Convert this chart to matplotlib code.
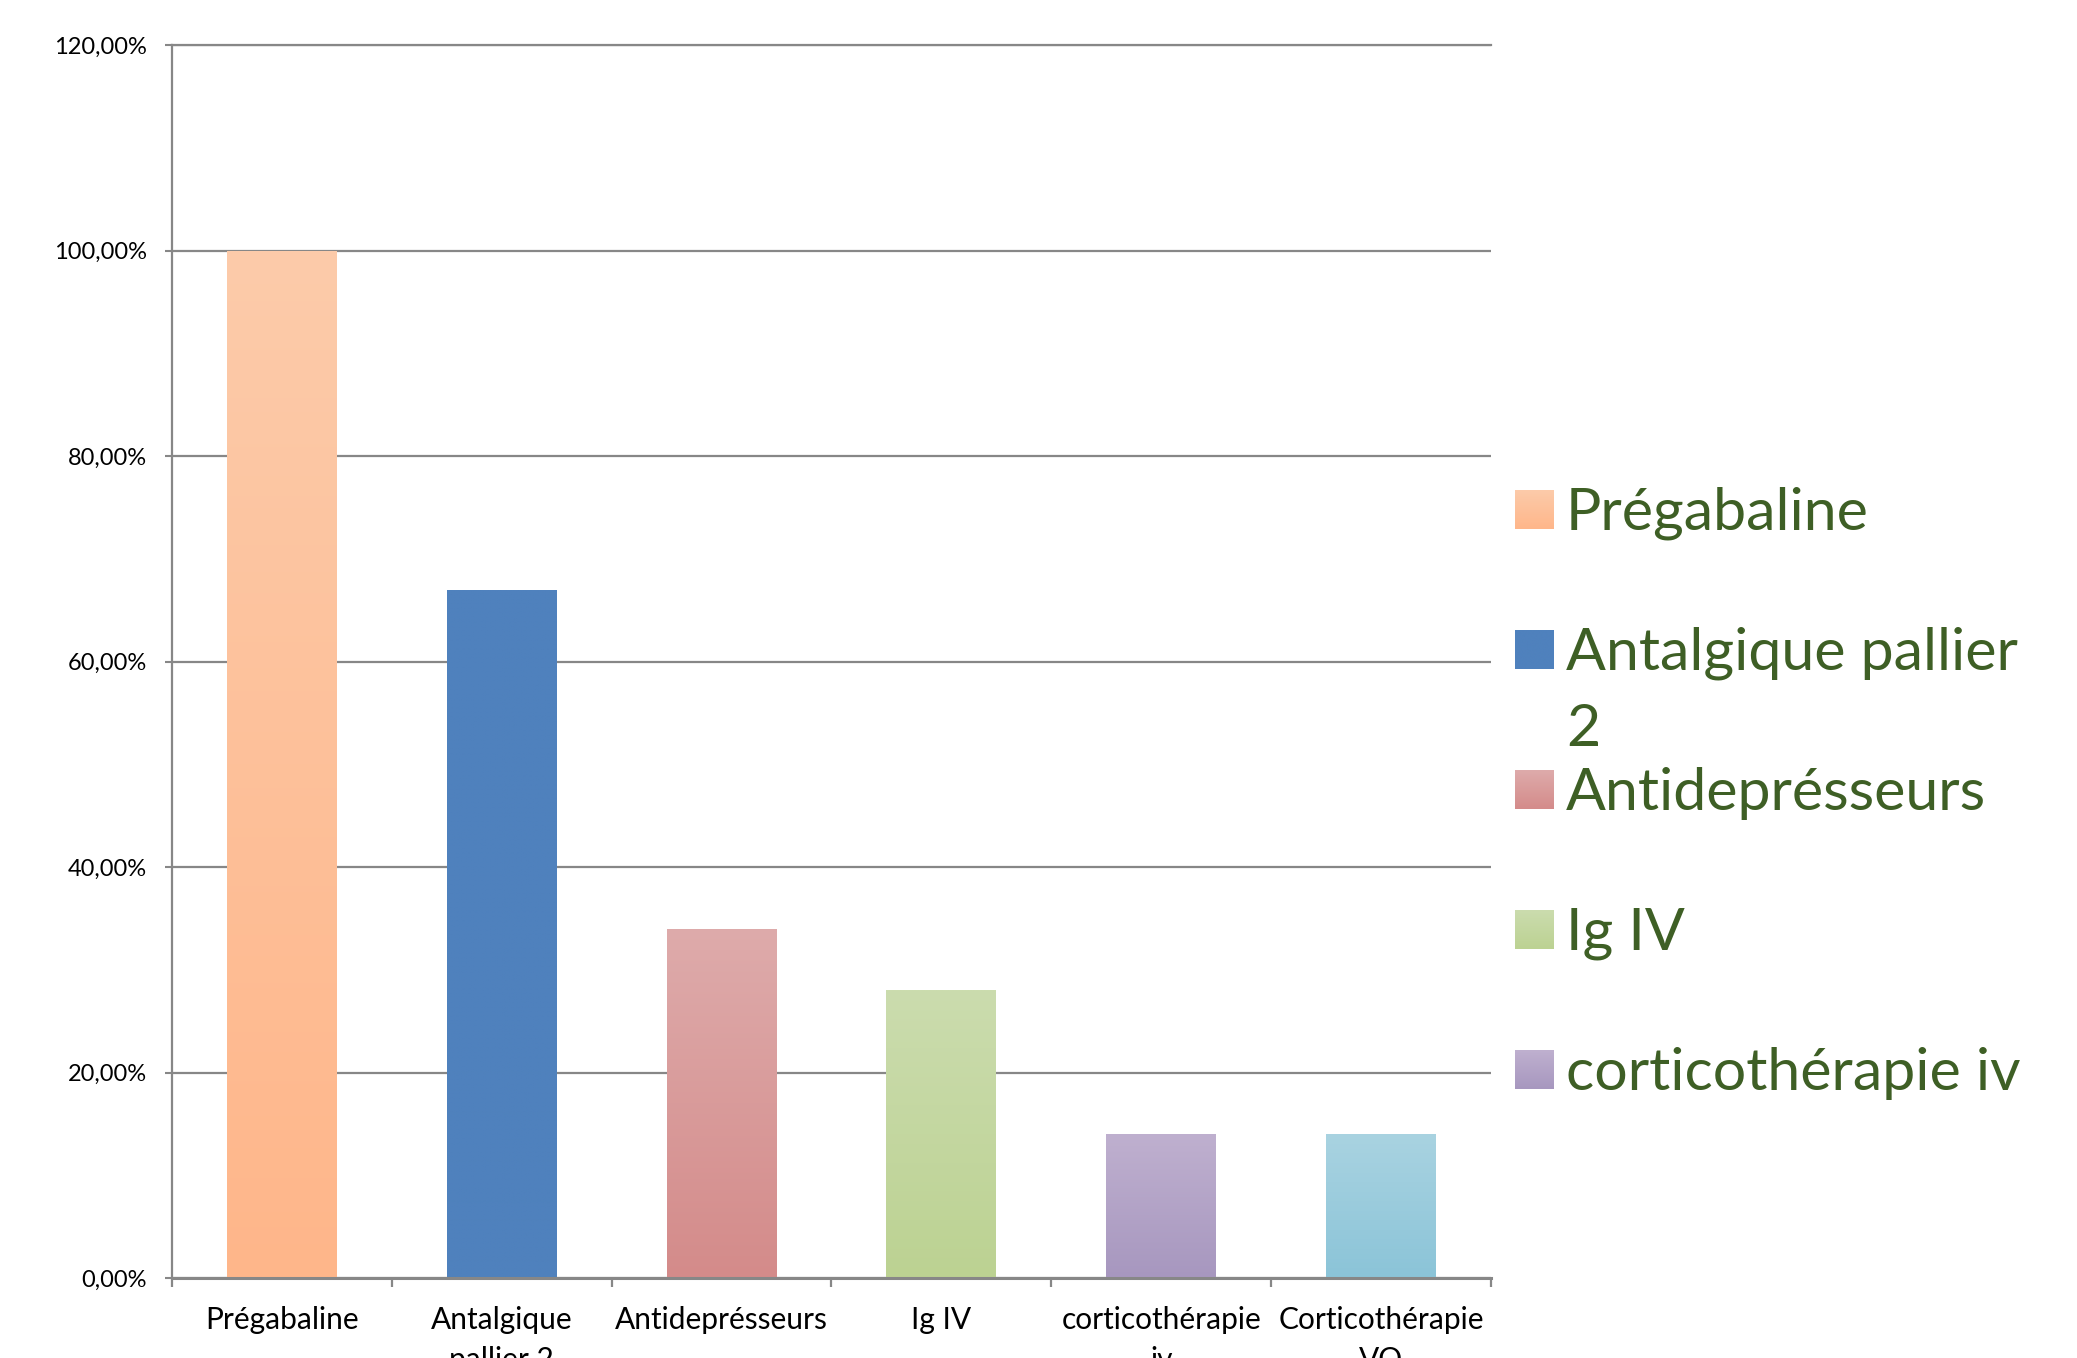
import numpy as np
import matplotlib
matplotlib.use("Agg")
import matplotlib.pyplot as plt
from matplotlib.colors import to_rgb
from matplotlib.ticker import FixedLocator, FuncFormatter

plt.rcParams['font.family'] = ['Lato', 'DejaVu Sans']

# ---------------- data ----------------
categories = ["Prégabaline", "Antalgique\npallier 2", "Antideprésseurs", "Ig IV",
              "corticothérapie\niv", "Corticothérapie\nVO"]
values = [1.00, 0.67, 0.34, 0.28, 0.14, 0.14]
top_colors = ["#FCCBAA", "#4F81BD", "#DEABAB", "#CBDCAE", "#BFB0CF", "#A9D3E1"]
bottom_colors = ["#FFB68A", "#4F81BD", "#D48B8A", "#BCD292", "#A797BF", "#8BC4D8"]
legend_labels = ["Prégabaline", "Antalgique pallier\n2", "Antideprésseurs", "Ig IV",
                 "corticothérapie iv"]
y_ticks = [0.0, 0.2, 0.4, 0.6, 0.8, 1.0, 1.2]

W, H = 2077, 1358
fig = plt.figure(figsize=(W / 100, H / 100), dpi=100)
ax = fig.add_axes([172 / W, (H - 1278) / H, (1491 - 172) / W, (1278 - 45) / H])

grid_c = "#878787"
x = np.arange(len(categories))
bars = ax.bar(x, values, width=0.5, color=bottom_colors, zorder=2, linewidth=0)


def grad(c_bottom, c_top, n=256):
    b = np.array(to_rgb(c_bottom))
    t = np.array(to_rgb(c_top))
    f = np.linspace(0, 1, n)[:, None]
    return (b * (1 - f) + t * f)[:, None, :]


for b, cb, ct in zip(bars, bottom_colors, top_colors):
    x0, y0 = b.get_x(), b.get_y()
    im = ax.imshow(grad(cb, ct), extent=(x0, x0 + b.get_width(), y0, y0 + b.get_height()),
                   origin='lower', aspect='auto', zorder=3, interpolation='bilinear')
    im.set_clip_path(b)

ax.set_xlim(-0.5, len(categories) - 0.5)
ax.set_ylim(0, 1.2)

# y axis
ax.yaxis.set_major_locator(FixedLocator(y_ticks))
ax.yaxis.set_major_formatter(FuncFormatter(lambda v, p: f"{v*100:.2f}%".replace('.', ',')))
ax.tick_params(axis='y', which='major', direction='out', length=5, width=1.5,
               color=grid_c, labelsize=17, pad=13, labelcolor='black')
ax.yaxis.grid(True, color=grid_c, linewidth=1.6, zorder=1)
ax.set_axisbelow(True)

# x axis: boundary ticks + centred labels
ax.xaxis.set_major_locator(FixedLocator(np.arange(len(categories) + 1) - 0.5))
ax.xaxis.set_major_formatter(FuncFormatter(lambda v, p: ""))
ax.xaxis.set_minor_locator(FixedLocator(x))
ax.set_xticklabels(categories, minor=True, linespacing=1.55)
ax.tick_params(axis='x', which='major', direction='out', length=6.5, width=1.6, color=grid_c)
ax.tick_params(axis='x', which='minor', length=0, labelsize=21.5, pad=20, labelcolor='black')

for s in ['top', 'right']:
    ax.spines[s].set_visible(False)
ax.spines['left'].set_color(grid_c)
ax.spines['left'].set_linewidth(1.6)
ax.spines['bottom'].set_color(grid_c)
ax.spines['bottom'].set_linewidth(2.2)
ax.spines['bottom'].set_zorder(4)

# top gridline (at the axis limit) drawn fully
ax.axhline(1.2, color=grid_c, linewidth=1.6, clip_on=False, zorder=1)

# ---------------- legend (manual, fixed slots) ----------------
lax = fig.add_axes([0, 0, 1, 1], zorder=5)
lax.set_xlim(0, W)
lax.set_ylim(H, 0)
lax.axis('off')
centers = [509.5, 649.5, 789.5, 929.5, 1069.5]
for lab, c, cb, ct in zip(legend_labels, centers, bottom_colors, top_colors):
    lax.imshow(grad(cb, ct), extent=(1515, 1554, c + 19.5, c - 19.5), origin='lower',
               aspect='auto', interpolation='bilinear')
    for j, line in enumerate(lab.split("\n")):
        lax.text(1566, c + 20 + j * 76, line, fontsize=42.5, color="#3E5F25",
                 va='baseline', ha='left')
lax.set_xlim(0, W)
lax.set_ylim(H, 0)

fig.savefig("out.png", dpi=100)
